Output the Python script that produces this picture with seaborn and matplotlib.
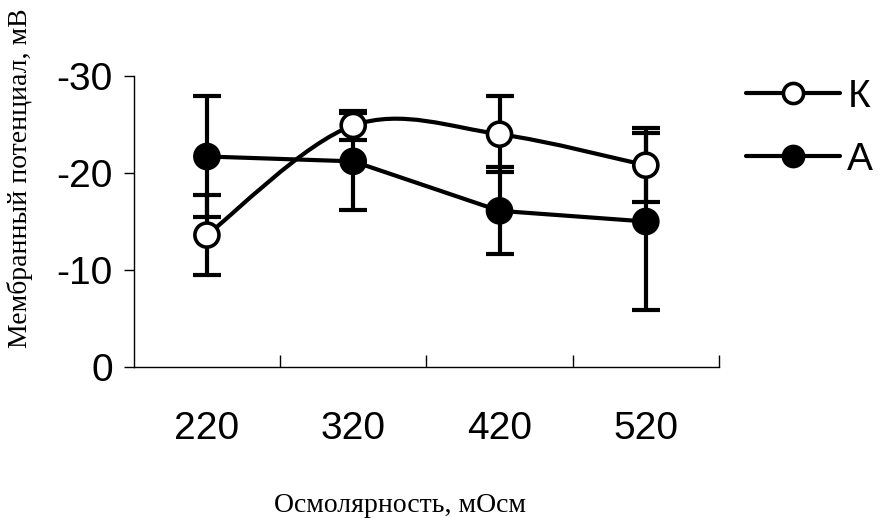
import numpy as np
import pandas as pd
import matplotlib
matplotlib.use("Agg")
import matplotlib.pyplot as plt
from matplotlib.path import Path
from matplotlib.patches import PathPatch
from matplotlib.lines import Line2D
import seaborn as sns

# data
osmolarity = ["220", "320", "420", "520"]
k_mean = [-13.6, -24.9, -24.0, -20.8]
k_err = [4.1, 1.5, 3.9, 3.8]
a_mean = [-21.7, -21.2, -16.1, -15.0]
a_err = [6.2, 5.0, 4.5, 9.1]
series_labels = ["К", "А"]

df = pd.DataFrame({
    "x": list(range(len(osmolarity))) * 2,
    "y": k_mean + a_mean,
    "err": k_err + a_err,
    "group": [series_labels[0]] * 4 + [series_labels[1]] * 4,
})

sns.set_style("white")
plt.rcParams["font.family"] = ["Liberation Sans", "DejaVu Sans"]
plt.rcParams["axes.unicode_minus"] = False
for key in ["text.color", "xtick.color", "ytick.color", "axes.labelcolor", "axes.edgecolor"]:
    plt.rcParams[key] = "black"


def smooth_path(xs, ys):
    # excel style smoothed line: cubic bezier, catmull-rom control points
    pts = np.column_stack([xs, ys]).astype(float)
    ext = np.vstack([pts[0], pts, pts[-1]])
    verts = [pts[0]]
    codes = [Path.MOVETO]
    for i in range(len(pts) - 1):
        p0, p1, p2, p3 = ext[i], ext[i + 1], ext[i + 2], ext[i + 3]
        verts += [p1 + (p2 - p0) / 6, p2 - (p3 - p1) / 6, p2]
        codes += [Path.CURVE4] * 3
    return Path(verts, codes)


fig = plt.figure(figsize=(8.8, 5.18), dpi=100)
ax = fig.add_axes([0.152, 0.2915, 0.665, 0.5618])

lw = 3.0
for name, face in zip(series_labels, ["white", "black"]):
    sub = df[df["group"] == name]
    if name == "К":
        ax.add_patch(PathPatch(smooth_path(sub["x"], sub["y"]), facecolor="none",
                               edgecolor="black", lw=lw, zorder=2))
    else:
        sns.lineplot(x=sub["x"], y=sub["y"], color="black", lw=lw, ax=ax, zorder=2)
    ax.errorbar(sub["x"], sub["y"], yerr=sub["err"], fmt="none", ecolor="black",
                elinewidth=lw, capsize=10, capthick=lw, zorder=3)

sns.scatterplot(data=df, x="x", y="y", hue="group", palette={"К": "white", "А": "black"},
                edgecolor="black", linewidth=2.6, s=300, legend=False, ax=ax, zorder=4)

ax.set_xlim(-0.5, 3.5)
ax.set_ylim(0, -30)
ax.set_yticks([0, -10, -20, -30])
ax.set_yticklabels(["0", "-10", "-20", "-30"])
ax.set_xticks([0.5, 1.5, 2.5, 3.5])
ax.set_xticklabels([])
ax.set_xticks(range(len(osmolarity)), minor=True)
ax.set_xticklabels(osmolarity, minor=True)
ax.tick_params(axis="x", which="major", bottom=True, direction="in", length=9, width=1)
ax.tick_params(axis="x", which="minor", bottom=True, length=0, pad=32, labelsize=28)
ax.tick_params(axis="y", left=True, direction="out", length=7, width=1, labelsize=28, pad=8)
ax.set_xlabel("")
ax.set_ylabel("")
sns.despine(ax=ax)
for s in ["left", "bottom"]:
    ax.spines[s].set_linewidth(1)

fig.text(0.023, 0.656, "Мембранный потенциал, мВ", rotation=90, ha="center", va="center",
         fontsize=20, family=["Liberation Serif", "DejaVu Serif"])
fig.text(0.4545, 0.025, "Осмолярность, мОсм", ha="center", va="center",
         fontsize=20, family=["Liberation Serif", "DejaVu Serif"])

handles = [Line2D([], [], color="black", lw=lw, marker="o", markersize=14.5,
                  markerfacecolor=f, markeredgecolor="black", markeredgewidth=2.6)
           for f in ["white", "black"]]
fig.legend(handles, series_labels, loc="upper left", bbox_to_anchor=(0.848, 0.848),
           frameon=False, fontsize=28, handlelength=2.4, labelspacing=0.7,
           handletextpad=0.2, borderaxespad=0, borderpad=0)

fig.savefig("out.png", dpi=100)
